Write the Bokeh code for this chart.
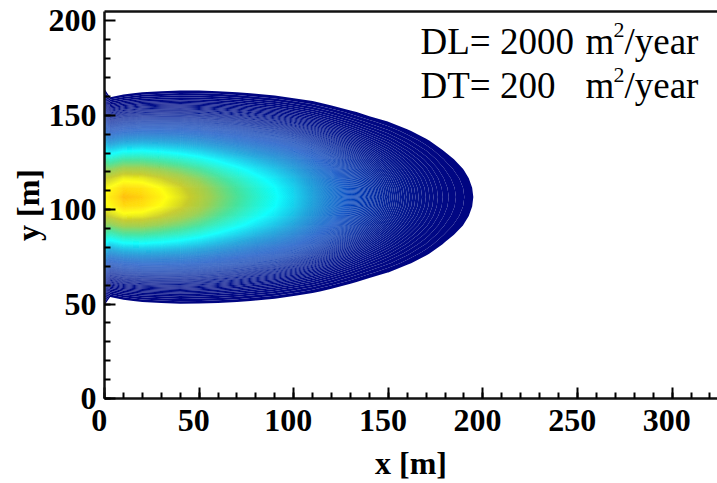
from bokeh.plotting import figure
from bokeh.embed import file_html
from bokeh.resources import INLINE
from bokeh.models import FixedTicker, Label, LinearAxis, Range1d
import numpy as np

x_stations = [0, 3, 10, 20, 30, 40, 50, 60, 70, 80, 90, 100, 110, 120, 130, 140, 150, 160, 170, 180, 190, 200]
offsets = [0, 5, 10, 15, 20, 25, 30, 35, 40, 45, 50, 55, 60]
plume_center_y = 106.7

# log concentration (relative to peak), one row per column of x_stations
c_00 = [-0.12, -0.154, -0.254, -0.422, -0.656, -0.958, -1.326, -1.762, -2.264, -2.834, -3.47, -4.174, -4.944]
c_03 = [-0.08, -0.120, -0.239, -0.438, -0.716, -1.074, -1.511, -2.028, -2.624, -3.300, -4.055, -4.890, -5.804]
c_10 = [-0.01, -0.048, -0.163, -0.354, -0.622, -0.966, -1.387, -1.884, -2.458, -3.108, -3.835, -4.638, -5.518]
c_20 = [-0.03, -0.067, -0.176, -0.359, -0.614, -0.943, -1.344, -1.819, -2.366, -2.987, -3.68, -4.447, -5.286]
c_30 = [-0.10, -0.135, -0.241, -0.417, -0.664, -0.981, -1.369, -1.827, -2.356, -2.955, -3.625, -4.365, -5.176]
c_40 = [-0.19, -0.224, -0.326, -0.496, -0.734, -1.04, -1.414, -1.856, -2.366, -2.944, -3.59, -4.304, -5.086]
c_50 = [-0.30, -0.333, -0.433, -0.599, -0.832, -1.131, -1.497, -1.929, -2.428, -2.993, -3.625, -4.323, -5.088]
c_60 = [-0.44, -0.473, -0.57, -0.733, -0.96, -1.253, -1.61, -2.033, -2.52, -3.073, -3.69, -4.373, -5.12]
c_70 = [-0.58, -0.612, -0.708, -0.868, -1.092, -1.38, -1.732, -2.148, -2.628, -3.172, -3.78, -4.452, -5.188]
c_80 = [-0.73, -0.762, -0.857, -1.016, -1.238, -1.524, -1.873, -2.286, -2.762, -3.302, -3.905, -4.572, -5.302]
c_90 = [-0.88, -0.912, -1.006, -1.164, -1.384, -1.668, -2.014, -2.424, -2.896, -3.432, -4.03, -4.692, -5.416]
c_100 = [-1.07, -1.102, -1.196, -1.354, -1.574, -1.858, -2.204, -2.614, -3.086, -3.622, -4.22, -4.882, -5.606]
c_110 = [-1.33, -1.361, -1.454, -1.609, -1.826, -2.105, -2.446, -2.849, -3.314, -3.841, -4.43, -5.081, -5.794]
c_120 = [-1.63, -1.661, -1.753, -1.907, -2.122, -2.399, -2.737, -3.137, -3.598, -4.121, -4.705, -5.351, -6.058]
c_130 = [-1.96, -1.991, -2.082, -2.235, -2.448, -2.723, -3.058, -3.455, -3.912, -4.431, -5.01, -5.651, -6.352]
c_140 = [-2.31, -2.34, -2.431, -2.582, -2.794, -3.066, -3.399, -3.792, -4.246, -4.76, -5.335, -5.97, -6.666]
c_150 = [-2.69, -2.719, -2.806, -2.951, -3.154, -3.415, -3.734, -4.111, -4.546, -5.039, -5.59, -6.199, -6.866]
c_160 = [-3.09, -3.118, -3.202, -3.342, -3.538, -3.79, -4.098, -4.462, -4.882, -5.358, -5.89, -6.478, -7.122]
c_170 = [-3.49, -3.517, -3.599, -3.735, -3.926, -4.171, -4.471, -4.825, -5.234, -5.697, -6.215, -6.787, -7.414]
c_180 = [-3.93, -3.957, -4.036, -4.169, -4.354, -4.593, -4.884, -5.229, -5.626, -6.077, -6.58, -7.137, -7.746]
c_190 = [-4.32, -4.347, -4.426, -4.559, -4.744, -4.983, -5.274, -5.619, -6.016, -6.467, -6.97, -7.527, -8.136]
c_200 = [-4.76, -4.787, -4.866, -4.999, -5.184, -5.423, -5.714, -6.059, -6.456, -6.907, -7.41, -7.967, -8.576]

columns = [c_00, c_03, c_10, c_20, c_30, c_40, c_50, c_60, c_70, c_80, c_90, c_100, c_110,
           c_120, c_130, c_140, c_150, c_160, c_170, c_180, c_190, c_200]

lowest_level = 0.0107
level_step = 0.0025
color_stops = [0.0, 0.06, 0.15, 0.26, 0.40, 0.55, 0.68, 0.78, 0.88, 0.96, 1.0]
stop_r = [0, 5, 0, 0, 0, 60, 150, 195, 255, 255, 255]
stop_g = [0, 30, 75, 150, 255, 225, 205, 200, 255, 215, 180]
stop_b = [125, 150, 195, 215, 255, 150, 70, 30, 0, 0, 0]
# opacity of a second pass that closes the seams between neighbouring bands
seam_stops = [0.12, 0.40]
seam_alpha = [0.0, 1.0]

x_ticks = [0, 50, 100, 150, 200, 250, 300]
y_ticks = [0, 50, 100, 150, 200]

half = np.array(columns).T
z = np.vstack([half[:0:-1], half])
y = np.concatenate([plume_center_y - np.array(offsets[:0:-1]), plume_center_y + np.array(offsets)])
x = np.array(x_stations, dtype=float)

conc_levels = np.arange(lowest_level, 1.0 + level_step, level_step)
levels = np.log(conc_levels)
mid = 0.5 * (conc_levels[:-1] + conc_levels[1:])
colors = ["#%02x%02x%02x" % (int(r), int(g), int(b)) for r, g, b in zip(
    np.interp(mid, color_stops, stop_r), np.interp(mid, color_stops, stop_g), np.interp(mid, color_stops, stop_b))]
alphas = [float(a) for a in np.interp(mid, seam_stops, seam_alpha)]

SERIF = "Liberation Serif"
p = figure(width=717, height=483, output_backend="svg", toolbar_location=None,
           x_range=Range1d(0, 324), y_range=Range1d(0, 205),
           min_border_left=104, min_border_right=0, min_border_top=11, min_border_bottom=85)
p.outline_line_color = None
p.grid.visible = False
p.background_fill_color = "white"

p.contour(x, y, z, levels, fill_color=colors, line_color=None)
p.contour(x, y, z, levels, fill_color=colors, fill_alpha=alphas, line_color=None)

for ax, ticks, label in ((p.xaxis[0], x_ticks, "x [m]"), (p.yaxis[0], y_ticks, "y [m]")):
    ax.ticker = FixedTicker(ticks=ticks, minor_ticks=list(range(0, 330, 10)))
    ax.axis_label = label
    ax.axis_label_text_font = SERIF
    ax.axis_label_text_font_style = "bold"
    ax.axis_label_text_font_size = "32px"
    ax.axis_label_text_color = "black"
    ax.major_label_text_font = SERIF
    ax.major_label_text_font_style = "bold"
    ax.major_label_text_font_size = "32px"
    ax.major_label_text_color = "black"
    ax.axis_line_width = 2.5
    ax.axis_line_color = "#111111"
    ax.major_tick_in = 11
    ax.major_tick_out = 0
    ax.minor_tick_in = 6
    ax.minor_tick_out = 0
    ax.major_tick_line_width = 2
    ax.minor_tick_line_width = 2
    ax.major_tick_line_color = "black"
    ax.minor_tick_line_color = "black"

p.yaxis[0].ticker = FixedTicker(ticks=y_ticks, minor_ticks=list(range(0, 200, 10)))
p.yaxis[0].major_label_standoff = 8
p.yaxis[0].major_label_orientation = 0
p.yaxis[0].axis_label_standoff = 0
p.xaxis[0].major_label_standoff = 3
p.xaxis[0].axis_label_standoff = 4
# the reference's x tick labels sit a little left of their ticks: trailing blanks move the centred text
p.xaxis[0].major_label_overrides = {t: f"{t}\u00a0\u200a" for t in x_ticks}

top = LinearAxis(ticker=FixedTicker(ticks=[]), major_label_text_font_size="0px", axis_line_width=2.5, axis_line_color="#111111")
p.add_layout(top, "above")

def note(t, px, py, size="37px"):
    p.add_layout(Label(x=(px - 104) / 1.892, y=(397.5 - py) / 1.885, text=t, text_font=SERIF, text_font_size=size,
                       text_color="black", text_baseline="alphabetic", text_align="left"))

note("DL= 2000", 420, 41)
note("m", 585, 41)
note("2", 613, 30, "22px")
note("/year", 624, 41)
note("DT= 200", 420, 85)
note("m", 585, 85)
note("2", 613, 74, "22px")
note("/year", 624, 85)

open("out.html", "w").write(file_html(p, INLINE))
